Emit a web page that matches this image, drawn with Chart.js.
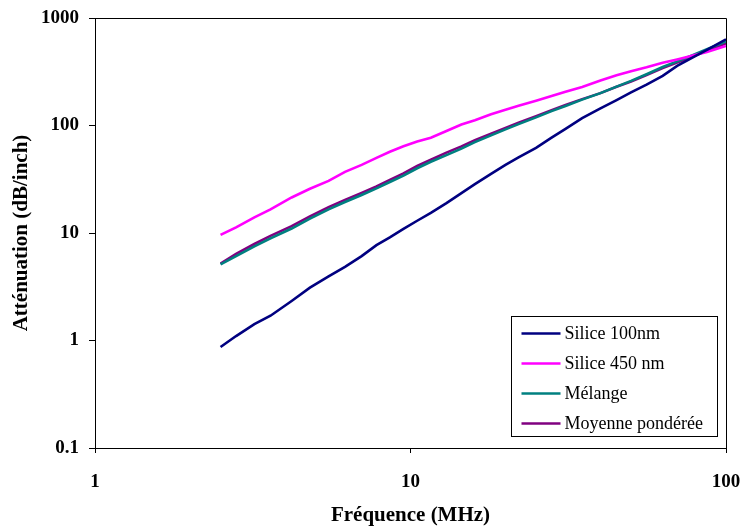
<!DOCTYPE html>
<html>
<head>
<meta charset="utf-8">
<script src="https://cdn.jsdelivr.net/npm/chart.js@4/dist/chart.umd.min.js"></script>
<style>
  html, body { margin: 0; padding: 0; background: #fff; }
  #wrap { width: 742px; height: 526px; }
</style>
</head>
<body>
<div id="wrap"><canvas id="c" width="742" height="526"></canvas></div>
<script>
// ---- Data ----
const frequencies = [2.5, 2.8, 3.2, 3.6, 4.2, 4.8, 5.5, 6.2, 7, 7.8, 8.6, 9.5, 10.5, 11.6, 13, 14.5, 16, 18, 20, 22, 25, 28, 31, 35, 40, 45, 50, 56, 63, 70, 78, 87, 100];
const silice100 = [0.87, 1.10, 1.42, 1.70, 2.33, 3.1, 3.95, 4.85, 6.1, 7.7, 9.1, 10.9, 13.0, 15.4, 19.0, 23.5, 28.5, 35.5, 43, 50.5, 62, 77, 93, 117, 144, 172, 203, 240, 290, 358, 425, 505, 634];
const silice450 = [9.6, 11.3, 14.0, 16.6, 21.4, 25.8, 30.5, 37, 43, 50, 57, 64, 71, 77, 89, 102, 112, 127, 140, 153, 170, 188, 206, 228, 262, 293, 320, 348, 383, 412, 445, 483, 550];
const melange = [5.1, 6.1, 7.5, 8.9, 11.0, 13.6, 16.6, 19.4, 22.6, 26.0, 29.8, 34.2, 40, 46, 53, 61, 70, 81, 92, 103, 119, 136, 152, 174, 200, 230, 260, 300, 350, 395, 448, 512, 605];
const moyenne = [5.2, 6.4, 7.9, 9.4, 11.6, 14.3, 17.4, 20.3, 23.6, 27.1, 31.2, 35.8, 42, 48, 56, 64, 73, 84, 95, 106, 122, 139, 155, 176, 200, 229, 256, 295, 342, 385, 436, 495, 581];
const seriesLabels = ["Silice 100nm", "Silice 450 nm", "Mélange", "Moyenne pondérée"];
const xTicks = [1, 10, 100];
const yTicks = [0.1, 1, 10, 100, 1000];
const xTitle = "Fréquence (MHz)";
const yTitle = "Atténuation (dB/inch)";

const colors = ["#000080", "#FF00FF", "#008080", "#800080"];
const series = [silice100, silice450, melange, moyenne];

const datasets = series.map((vals, i) => ({
  label: seriesLabels[i],
  data: frequencies.map((f, j) => ({ x: f, y: vals[j] })),
  borderColor: colors[i],
  backgroundColor: colors[i],
  borderWidth: 2.6,
  pointRadius: 0,
  tension: 0,
  fill: false
}));
const serif = "'Liberation Serif', 'DejaVu Serif', serif";

const boxPlugin = {
  id: 'boxPlugin',
  afterDraw(chart) {
    const ctx = chart.ctx;
    const a = chart.chartArea;
    ctx.save();
    ctx.strokeStyle = '#000';
    ctx.lineWidth = 1;
    ctx.beginPath();
    ctx.moveTo(Math.round(a.left) + 0.5, Math.round(a.top) + 0.5);
    ctx.lineTo(Math.round(a.right) + 0.5, Math.round(a.top) + 0.5);
    ctx.lineTo(Math.round(a.right) + 0.5, Math.round(a.bottom) + 0.5);
    ctx.stroke();

    // legend box inside the plot area
    const bx = Math.round(a.right) - 214.5, by = Math.round(a.bottom) - 131.5;
    const bw = 206, bh = 120;
    ctx.fillStyle = '#fff';
    ctx.fillRect(bx, by, bw, bh);
    ctx.strokeRect(bx, by, bw, bh);
    ctx.font = "18px " + serif;
    ctx.textBaseline = 'middle';
    ctx.textAlign = 'left';
    chart.data.datasets.forEach((ds, i) => {
      const y = by + 17 + i * 30;
      ctx.strokeStyle = ds.borderColor;
      ctx.lineWidth = 2.6;
      ctx.beginPath();
      ctx.moveTo(bx + 10, y);
      ctx.lineTo(bx + 49, y);
      ctx.stroke();
      ctx.fillStyle = '#000';
      ctx.fillText(ds.label, bx + 53, y + 1);
    });
    ctx.restore();
  }
};

new Chart(document.getElementById('c'), {
  type: 'line',
  data: { datasets },
  options: {
    responsive: false,
    animation: false,
    devicePixelRatio: 1,
    layout: { padding: { left: 0, right: 16, top: 18, bottom: 0 } },
    plugins: { legend: { display: false }, tooltip: { enabled: false } },
    scales: {
      x: {
        type: 'logarithmic',
        min: 1, max: 100,
        afterBuildTicks(scale) { scale.ticks = xTicks.map(v => ({ value: v })); },
        afterFit(scale) { scale.height = 78; scale.paddingLeft = 0; scale.paddingRight = 0; },
        ticks: {
          color: '#000',
          font: { family: serif, size: 19, weight: 'bold' },
          padding: 18,
          maxRotation: 0,
          autoSkip: false,
          callback: (v) => String(v)
        },
        grid: { drawOnChartArea: false, drawTicks: true, tickLength: 5, color: '#000' },
        border: { display: true, color: '#000', width: 1 },
        title: {
          display: true, text: xTitle, color: '#000',
          font: { family: serif, size: 21, weight: 'bold', lineHeight: 1 },
          padding: { top: 0, bottom: 0 }
        }
      },
      y: {
        type: 'logarithmic',
        min: 0.1, max: 1000,
        afterBuildTicks(scale) { scale.ticks = yTicks.map(v => ({ value: v })); },
        afterFit(scale) { scale.width = 95; scale.paddingTop = 0; scale.paddingBottom = 0; },
        ticks: {
          color: '#000',
          font: { family: serif, size: 19, weight: 'bold' },
          padding: 10,
          autoSkip: false,
          callback: (v) => String(v)
        },
        grid: { drawOnChartArea: false, drawTicks: true, tickLength: 6, color: '#000' },
        border: { display: true, color: '#000', width: 1 },
        title: {
          display: true, text: yTitle, color: '#000',
          font: { family: serif, size: 21, weight: 'bold', lineHeight: 1 },
          padding: { top: 11, bottom: 0 }
        }
      }
    }
  },
  plugins: [boxPlugin]
});
</script>
</body>
</html>
